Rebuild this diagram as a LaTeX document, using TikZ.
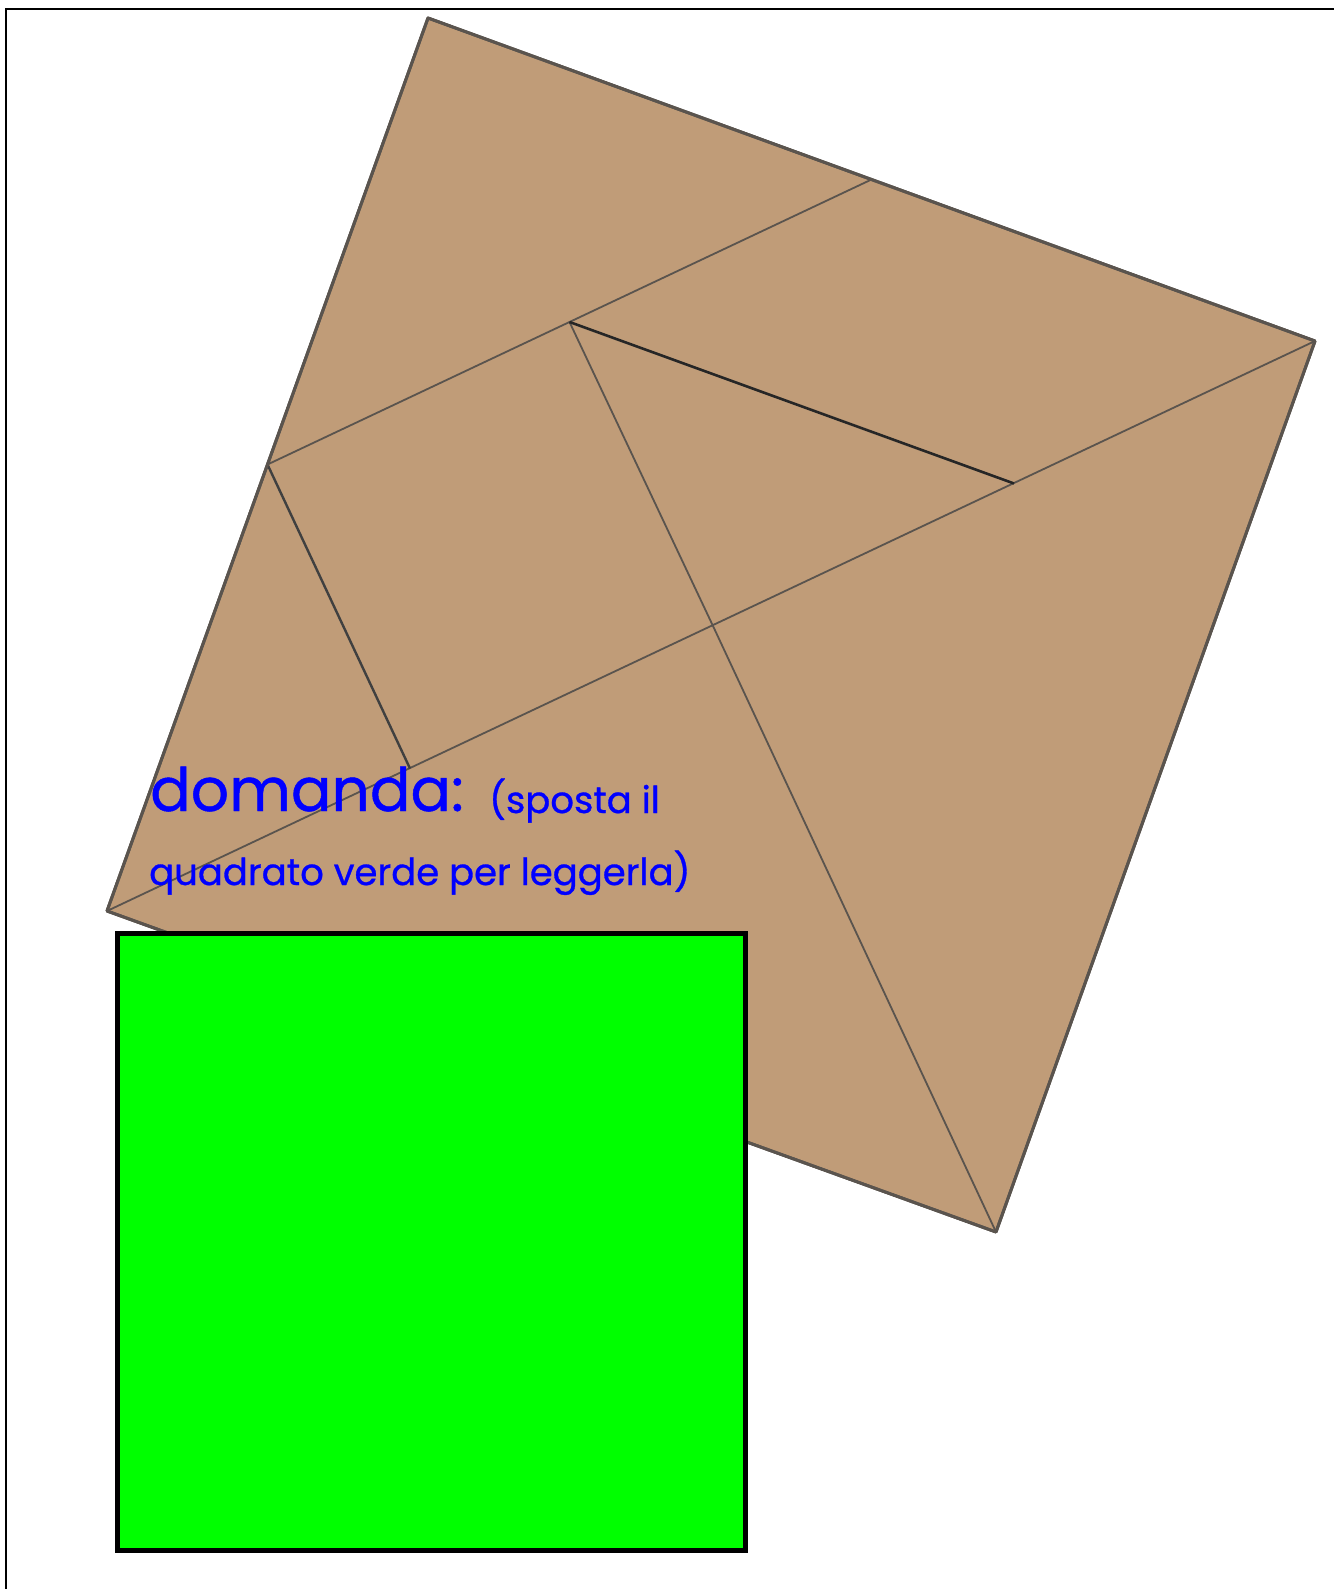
\documentclass[tikz,border=0pt]{standalone}
\usepackage{fontspec}
\setmainfont{Poppins}
\newfontfamily\qfont[FakeBold=0.8]{Poppins}
\usetikzlibrary{calc}
\definecolor{tan}{RGB}{192,156,120}
\definecolor{edge}{RGB}{90,84,78}
\definecolor{qblue}{RGB}{0,0,255}
\definecolor{qgreen}{RGB}{0,255,0}
\tikzset{
  outline/.style={draw=edge,line width=3pt,fill=tan,line join=round},
  cut/.style={draw=edge,line width=1.8pt},
  darkcut/.style={draw=black!85,line width=2.6pt},
  frame/.style={draw=black,line width=2pt},
  qtext/.style={text=qblue,inner sep=0pt,anchor=base west}
}
\begin{document}
\begin{tikzpicture}[x=1pt,y=-1pt]
\useasboundingbox (0,0) rectangle (1333,1589);
% frame
\draw[frame] (6,1595) -- (6,9.5) -- (1340,9.5);
% tangram square
\coordinate (C) at (713,626);
\coordinate (T) at (428,18);
\coordinate (R) at (1315,341);
\coordinate (B) at (996,1232);
\coordinate (L) at (107,911);
\coordinate (mTL) at ($(T)!0.5!(L)$);
\coordinate (mTR) at ($(T)!0.5!(R)$);
\coordinate (M) at ($(mTL)!0.5!(mTR)$);
\coordinate (mCR) at ($(C)!0.5!(R)$);
\coordinate (mLC) at ($(L)!0.5!(C)$);
\path[outline] (T) -- (R) -- (B) -- (L) -- cycle;
\draw[cut] (L) -- (R);
\draw[cut] (C) -- (B);
\draw[cut] (mTL) -- (mTR);
\draw[cut] (M) -- (C);
\draw[darkcut] (M) -- (mCR);
\draw[cut,line width=2.4pt,draw=black!75] (mTL) -- (mLC);
\draw[outline,fill=none] (T) -- (R) -- (B) -- (L) -- cycle;
% text
\node[qtext,font=\qfont\fontsize{60}{66}\selectfont] (q1) at (150,811) {domanda:};
\node[qtext,font=\qfont\fontsize{37}{40}\selectfont] (q2) at (489,813) {(sposta il};
\node[qtext,font=\qfont\fontsize{37}{40}\selectfont] (q3) at (149,885) {quadrato verde per leggerla)};
% green square
\node[draw=black,line width=5pt,fill=qgreen,minimum width=628pt,minimum height=617pt,inner sep=0pt,anchor=north west] (g) at (114.5,930.5) {};
\end{tikzpicture}
\end{document}
